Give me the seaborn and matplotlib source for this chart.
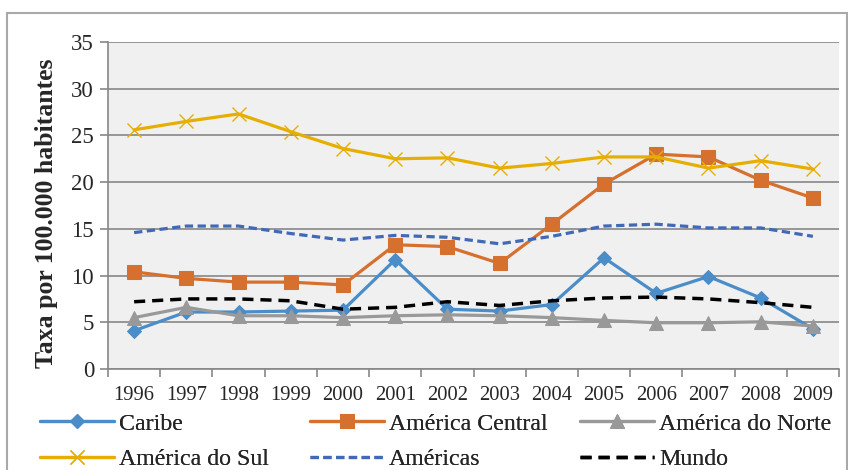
import matplotlib
matplotlib.use("Agg")
import matplotlib.pyplot as plt
from matplotlib.patches import Rectangle
from matplotlib.ticker import FixedLocator
import seaborn as sns

years = ["1996", "1997", "1998", "1999", "2000", "2001", "2002",
         "2003", "2004", "2005", "2006", "2007", "2008", "2009"]

caribe   = [4.1, 6.1, 6.1, 6.2, 6.3, 11.7, 6.4, 6.2, 6.9, 11.9, 8.1, 9.9, 7.6, 4.3]
central  = [10.4, 9.7, 9.3, 9.3, 9.0, 13.3, 13.1, 11.3, 15.5, 19.8, 23.0, 22.7, 20.2, 18.3]
norte    = [5.5, 6.6, 5.7, 5.7, 5.5, 5.7, 5.8, 5.7, 5.5, 5.2, 4.95, 4.95, 5.05, 4.6]
sul      = [25.6, 26.5, 27.3, 25.4, 23.6, 22.5, 22.6, 21.5, 22.0, 22.7, 22.7, 21.5, 22.3, 21.4]
americas = [14.6, 15.3, 15.3, 14.5, 13.8, 14.3, 14.1, 13.4, 14.2, 15.3, 15.5, 15.1, 15.1, 14.2]
mundo    = [7.2, 7.5, 7.5, 7.3, 6.4, 6.6, 7.2, 6.8, 7.3, 7.6, 7.7, 7.5, 7.1, 6.6]

series = [
    ("Caribe",            caribe,   dict(color="#4A8DC8", marker="D", markersize=7.5, lw=2.3)),
    ("América Central",   central,  dict(color="#D5702F", marker="s", markersize=10, lw=2.3)),
    ("América do Norte",  norte,    dict(color="#999999", marker="^", markersize=10, lw=2.3)),
    ("América do Sul",    sul,      dict(color="#E6AE00", marker="x", markersize=10, lw=2.3,
                                         markeredgewidth=1.0)),
    ("Américas",          americas, dict(color="#4169B5", lw=2.3, dashes=(2.6, 1.4))),
    ("Mundo",             mundo,    dict(color="#000000", lw=2.5, dashes=(3.2, 2.0))),
]

sns.set_theme(style="white")
plt.rcParams["font.family"] = ["Liberation Serif", "DejaVu Serif"]

fig = plt.figure(figsize=(8.48, 4.70), dpi=100)
ax = fig.add_axes([108 / 848, 1 - 369 / 470, (839 - 108) / 848, (369 - 42) / 470])
ax.set_facecolor("#F0F0F0")

for name, vals, style in series:
    sns.lineplot(x=years, y=vals, ax=ax, label=name, legend=False,
                 markeredgecolor=style["color"], **style)

grid_c = "#878787"
ax.set_xlim(-0.5, len(years) - 0.5)
ax.set_ylim(0, 35)
ax.set_yticks(range(0, 36, 5))
ax.yaxis.grid(True, color=grid_c, lw=1.2)
ax.xaxis.grid(False)
ax.set_axisbelow(True)
for s in ["top", "right"]:
    ax.spines[s].set_visible(False)
for s in ["left", "bottom"]:
    ax.spines[s].set_color(grid_c)
    ax.spines[s].set_linewidth(1.2)

ax.tick_params(axis="y", which="major", length=6, width=1.2, color=grid_c,
               direction="out", labelsize=16.5, pad=4, left=True)
ax.tick_params(axis="x", which="major", length=0, labelsize=14.8, pad=12)
ax.xaxis.set_minor_locator(FixedLocator([i - 0.5 for i in range(len(years) + 1)]))
ax.tick_params(axis="x", which="minor", length=6, width=1.2, color=grid_c,
               direction="out", bottom=True)
ax.set_xlabel("")
ax.set_ylabel("Taxa por 100.000 habitantes", fontsize=18.5, fontweight="bold")
ax.yaxis.set_label_coords((58 - 108) / 731, 1 - (213 - 42) / 327)

# legend: three equal-width columns, as in the source
handles, labels = ax.get_legend_handles_labels()
col_x = [40 / 848, 310 / 848, 580 / 848]
for c in range(3):
    idx = [c, c + 3]
    leg = fig.legend([handles[i] for i in idx], [labels[i] for i in idx],
                     loc="upper left", bbox_to_anchor=(col_x[c], 1 - 413 / 470),
                     frameon=False, fontsize=17.2, handlelength=3.1,
                     handletextpad=0.2, labelspacing=0.58, borderpad=0,
                     borderaxespad=0)
    fig.add_artist(leg)

# outer chart border
fig.add_artist(Rectangle((7 / 848, -0.05), 840 / 848, 1.05 - 13 / 470,
                         transform=fig.transFigure, fill=False,
                         edgecolor="#A9A9A9", lw=1.5))

fig.savefig("out.png", dpi=100)
